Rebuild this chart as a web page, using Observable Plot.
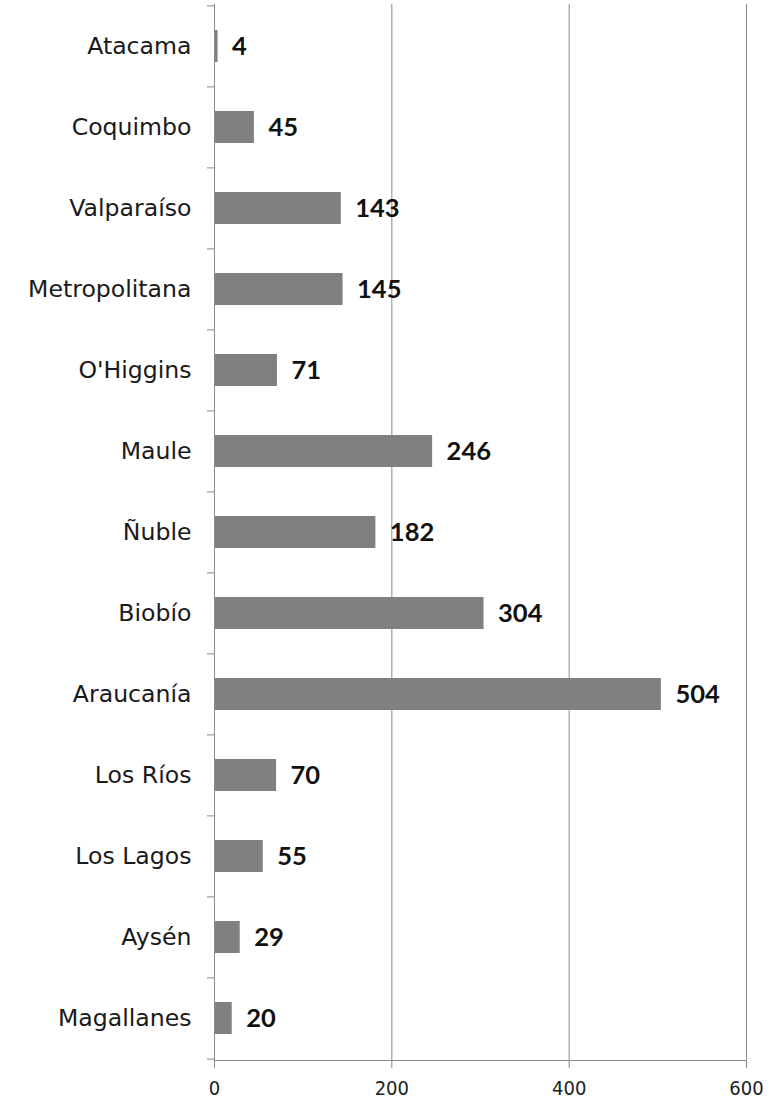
<!DOCTYPE html>
<html>
<head>
<meta charset="utf-8">
<script src="https://cdn.jsdelivr.net/npm/d3@7"></script>
<script src="https://cdn.jsdelivr.net/npm/@observablehq/plot@0.6"></script>
<style>
  html, body { margin: 0; padding: 0; background: #fff; }
  #chart svg { display: block; }
</style>
</head>
<body>
<div id="chart"></div>
<script>
const regions = ["Atacama", "Coquimbo", "Valparaíso", "Metropolitana", "O'Higgins", "Maule", "Ñuble", "Biobío", "Araucanía", "Los Ríos", "Los Lagos", "Aysén", "Magallanes"];
const counts = [4, 45, 143, 145, 71, 246, 182, 304, 504, 70, 55, 29, 20];
const xTicks = [0, 200, 400, 600];

const data = regions.map((r, i) => ({region: r, value: counts[i]}));

const W = 780, H = 1102;
const mTop = 4, mBottom = 42, mLeft = 214, mRight = 34;
const step = (H - mTop - mBottom) / regions.length;
const axisColor = "#8a8a8a";

const chart = Plot.plot({
  width: W,
  height: H,
  marginTop: mTop,
  marginBottom: mBottom,
  marginLeft: mLeft,
  marginRight: mRight,
  style: {background: "#fff", overflow: "visible"},
  x: {domain: [0, 600], label: null},
  y: {domain: regions, paddingInner: 0.6, paddingOuter: 0.3, label: null},
  marks: [
    Plot.gridX(xTicks.filter(d => d > 0), {stroke: axisColor, strokeOpacity: 1, strokeWidth: 1}),
    Plot.barX(data, {y: "region", x: "value", fill: "#808080"}),
    Plot.frame({anchor: "left", stroke: axisColor}),
    Plot.frame({anchor: "bottom", stroke: axisColor}),
    // boundary ticks on the category axis
    Plot.axisY({tickSize: 7, dy: -step / 2, text: null, stroke: axisColor, label: null}),
    Plot.axisY(regions.slice(-1), {tickSize: 7, dy: step / 2, text: null, stroke: axisColor, label: null}),
    // category labels
    Plot.axisY({tickSize: 0, tickPadding: 23, fontSize: 23.6, fill: "#1a1a1a",
      fontFamily: "DejaVu Sans", label: null}),
    // x axis
    Plot.axisX({ticks: xTicks, tickSize: 8, stroke: axisColor, tickPadding: 12,
      fontSize: 20, fill: "#222", fontFamily: "DejaVu Sans Condensed", label: null,
      tickFormat: d => String(d)}),
    Plot.text(data, {y: "region", x: "value", text: d => String(d.value), dx: 14,
      textAnchor: "start", fontSize: 25.5, fontWeight: "bold", fill: "#111",
      fontFamily: "Lato"})
  ]
});
document.getElementById("chart").appendChild(chart);
</script>
</body>
</html>
